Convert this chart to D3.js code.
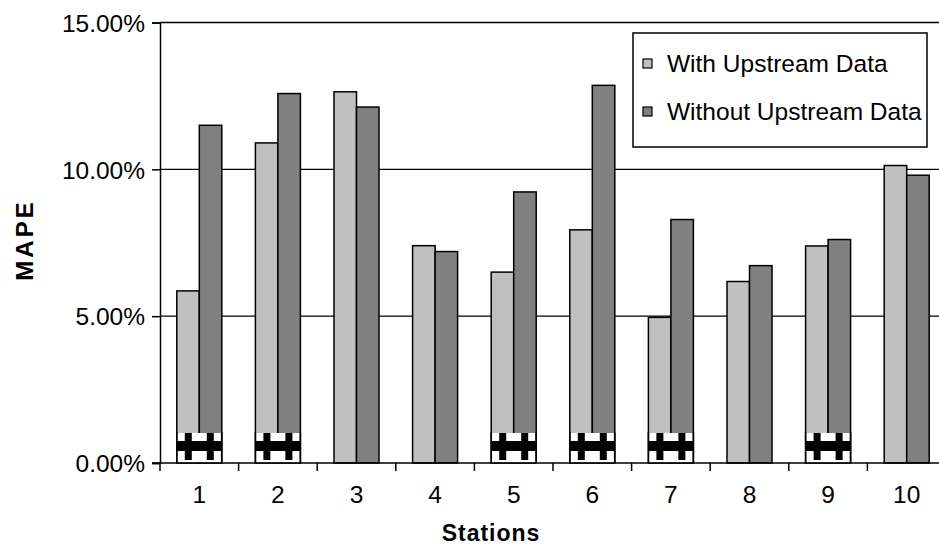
<!DOCTYPE html>
<html>
<head>
<meta charset="utf-8">
<script src="https://cdn.jsdelivr.net/npm/d3@7/dist/d3.min.js"></script>
<style>
  html, body { margin: 0; padding: 0; background: #fff; }
  svg { display: block; }
  text { font-family: "Liberation Sans", Arial, sans-serif; fill: #000; }
</style>
</head>
<body>
<svg id="chart" width="939" height="552"></svg>
<script>
// MAPE per station, with and without upstream data
const stations = ["1", "2", "3", "4", "5", "6", "7", "8", "9", "10"];
const seriesNames = ["With Upstream Data", "Without Upstream Data"];
const withUpstream = [0.0586, 0.1090, 0.1264, 0.0740, 0.0650, 0.0794, 0.0496, 0.0618, 0.0739, 0.1013];
const withoutUpstream = [0.1150, 0.1258, 0.1212, 0.0720, 0.0923, 0.1286, 0.0829, 0.0672, 0.0761, 0.0980];
// stations marked with the crossing symbol at the base of their bars
const marked = [true, true, false, false, true, true, true, false, true, false];
const yTicks = [0, 0.05, 0.10, 0.15];
const seriesColors = ["#c0c0c0", "#808080"];

const svg = d3.select("#chart");
const plotLeft = 160, plotRight = 946, plotTop = 22.5, plotBottom = 463;

const x = d3.scaleBand().domain(stations).range([plotLeft, plotRight]).padding(0);
const y = d3.scaleLinear().domain([0, 0.15]).range([plotBottom, plotTop]);
const bw = x.bandwidth();
const barW = 22.5;
const x1 = d3.scaleBand().domain(seriesNames).range([bw / 2 - barW, bw / 2 + barW]).padding(0);

// horizontal gridlines
svg.append("g").selectAll("line").data(yTicks.filter(d => d > 0)).join("line")
  .attr("x1", plotLeft).attr("x2", plotRight)
  .attr("y1", d => y(d)).attr("y2", d => y(d))
  .attr("stroke", "#000").attr("stroke-width", 1.4);

// bars
const rows = stations.map((s, i) => ({ station: s, values: [withUpstream[i], withoutUpstream[i]], marked: marked[i] }));
const groups = svg.append("g").selectAll("g").data(rows).join("g")
  .attr("transform", d => `translate(${x(d.station)},0)`);

groups.selectAll("rect").data(d => d.values.map((v, j) => ({ v, name: seriesNames[j], j }))).join("rect")
  .attr("x", d => x1(d.name))
  .attr("width", x1.bandwidth())
  .attr("y", d => y(d.v))
  .attr("height", d => y(0) - y(d.v))
  .attr("fill", d => seriesColors[d.j])
  .attr("stroke", "#000")
  .attr("stroke-width", 1.5);

// crossing symbol
const sym = groups.filter(d => d.marked).append("g")
  .attr("transform", `translate(${bw / 2 - barW},${y(0)})`);
sym.append("rect").attr("x", 1).attr("y", -30).attr("width", 2 * barW - 2).attr("height", 29.5).attr("fill", "#fff");
sym.append("rect").attr("x", 0).attr("y", -22).attr("width", 2 * barW).attr("height", 10).attr("fill", "#000");
sym.append("rect").attr("x", 8).attr("y", -30).attr("width", 7).attr("height", 27).attr("fill", "#000");
sym.append("rect").attr("x", 30).attr("y", -30).attr("width", 7).attr("height", 27).attr("fill", "#000");
sym.append("line").attr("x1", 0).attr("x2", 0).attr("y1", -31).attr("y2", 0).attr("stroke", "#000").attr("stroke-width", 1.5);
sym.append("line").attr("x1", 2 * barW).attr("x2", 2 * barW).attr("y1", -31).attr("y2", 0).attr("stroke", "#000").attr("stroke-width", 1.5);

// y axis
const yAxis = svg.append("g").attr("transform", `translate(${plotLeft},0)`)
  .call(d3.axisLeft(y).tickValues(yTicks).tickFormat(d3.format(".2%")).tickSize(8).tickPadding(7));
yAxis.select(".domain").attr("stroke", "#000").attr("stroke-width", 1.5);
yAxis.selectAll(".tick line").attr("stroke", "#000").attr("stroke-width", 1.5);
yAxis.selectAll(".tick text").attr("font-family", "Liberation Sans, Arial, sans-serif")
  .attr("font-size", 24.5).attr("fill", "#222").attr("dy", "0.36em");

// x axis
const xAxis = svg.append("g").attr("transform", `translate(0,${plotBottom})`);
xAxis.append("line").attr("x1", plotLeft - 8).attr("x2", plotRight).attr("y1", 0).attr("y2", 0)
  .attr("stroke", "#000").attr("stroke-width", 1.5);
xAxis.selectAll("line.tk").data(stations.concat(["end"])).join("line").attr("class", "tk")
  .attr("x1", (d, i) => plotLeft + i * bw).attr("x2", (d, i) => plotLeft + i * bw)
  .attr("y1", 0).attr("y2", 8).attr("stroke", "#000").attr("stroke-width", 1.5);
xAxis.selectAll("text").data(stations).join("text")
  .attr("x", d => x(d) + bw / 2).attr("y", 40)
  .attr("text-anchor", "middle").attr("font-size", 24.5).attr("fill", "#222")
  .text(d => d);

// axis titles
svg.append("text").attr("x", 491).attr("y", 541).attr("text-anchor", "middle")
  .attr("font-size", 23).attr("font-weight", "bold").attr("letter-spacing", 1).text("Stations");
svg.append("text").attr("transform", "translate(33,240) rotate(-90)").attr("text-anchor", "middle")
  .attr("font-size", 24).attr("font-weight", "bold").attr("letter-spacing", 3).text("MAPE");

// legend
const legend = svg.append("g");
legend.append("rect").attr("x", 633).attr("y", 33).attr("width", 294).attr("height", 114)
  .attr("fill", "#fff").attr("stroke", "#000").attr("stroke-width", 1.5);
const li = legend.selectAll("g").data(seriesNames).join("g")
  .attr("transform", (d, i) => `translate(643,${59 + i * 48})`);
li.append("rect").attr("width", 9).attr("height", 9)
  .attr("fill", (d, i) => seriesColors[i]).attr("stroke", "#000").attr("stroke-width", 1.2);
li.append("text").attr("x", 24).attr("y", 13).attr("font-size", 24.5).attr("fill", "#222").text(d => d);
</script>
</body>
</html>
